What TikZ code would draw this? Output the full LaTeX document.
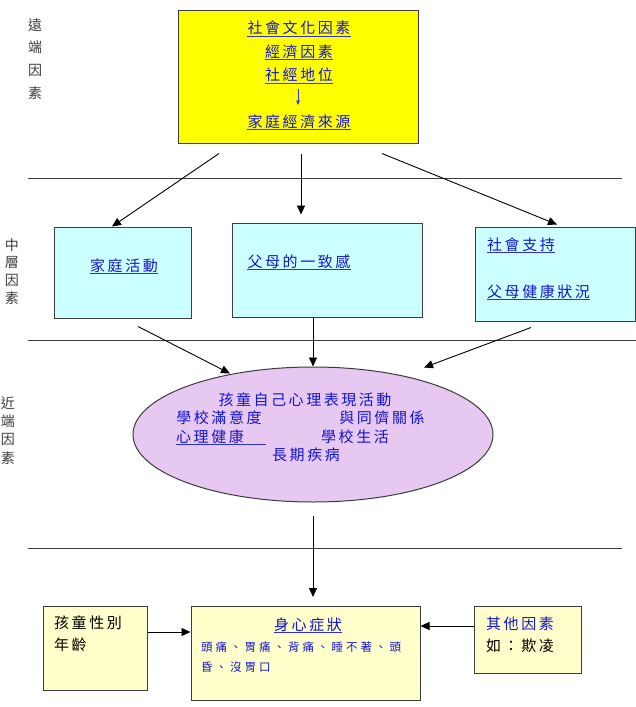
\documentclass[tikz,border=0pt]{standalone}
\usepackage{fontspec}
\newfontfamily\cjk{Noto Sans CJK TC}[LetterSpace=17]
\newfontfamily\cjks{Noto Sans CJK TC}[LetterSpace=26]
\newfontfamily\cjkn{Noto Sans CJK TC}
\usetikzlibrary{arrows.meta,shapes.geometric,calc}
\definecolor{ybox}{RGB}{255,255,0}
\definecolor{cbox}{RGB}{204,255,255}
\definecolor{pell}{RGB}{230,200,240}
\definecolor{lybox}{RGB}{255,255,204}
\definecolor{bord}{RGB}{60,60,60}
\definecolor{tblue}{RGB}{20,20,210}
\definecolor{ublue}{RGB}{50,50,200}
\definecolor{sidec}{RGB}{60,60,60}
\begin{document}
\begin{tikzpicture}[x=1pt,y=-1pt,
  box/.style={draw=bord,line width=1pt,rectangle,inner sep=0pt},
  arr/.style={-{Triangle[length=9pt,width=8pt]},line width=0.9pt,draw=black},
  sep/.style={draw=bord,line width=1pt},
  bt/.style={font=\cjk\fontsize{15}{16}\selectfont,text=tblue,inner sep=0pt},
  kt/.style={font=\cjk\fontsize{15}{16}\selectfont,text=black,inner sep=0pt},
  st/.style={font=\cjks\fontsize{11.5}{13}\selectfont,text=tblue,inner sep=0pt,anchor=west},
  ul/.style={draw=ublue,line width=0.8pt},
  side/.style={font=\cjkn\fontsize{14}{18}\selectfont,text=sidec,inner sep=0pt,align=center}
]
\useasboundingbox (0,0) rectangle (636,707);
\fill[white] (0,0) rectangle (636,707);

% separators
\coordinate (l1a) at (28,178); \coordinate (l1b) at (622,178);
\coordinate (l2a) at (28,340); \coordinate (l2b) at (636,340);
\coordinate (l3a) at (28,548); \coordinate (l3b) at (622,548);
\draw[sep] (l1a) -- (l1b);
\draw[sep] (l2a) -- (l2b);
\draw[sep] (l3a) -- (l3b);

% side labels
\node[side,font=\cjkn\fontsize{14}{22.7}\selectfont] (s1) at (35,59) {遠\\端\\因\\素};
\node[side,font=\cjkn\fontsize{14}{17.7}\selectfont] (s2) at (12,271.5) {中\\層\\因\\素};
\node[side,font=\cjkn\fontsize{14}{18.3}\selectfont] (s3) at (8,430.5) {近\\端\\因\\素};

% top box
\node[box,fill=ybox,minimum width=240,minimum height=133] (yel) at (298,76.5) {};
\node[bt] (y1) at (299,28) {社會文化因素};
\draw[ul] ($(y1.south west)+(0,1)$) -- ($(y1.south east)+(0,1)$);
\node[bt] (y2) at (299,52) {經濟因素};
\draw[ul] ($(y2.south west)+(0,0)$) -- ($(y2.south east)+(0,0)$);
\node[bt] (y3) at (299,75) {社經地位};
\draw[ul] ($(y3.south west)+(0,1)$) -- ($(y3.south east)+(0,1)$);
\coordinate (ya) at (298,89);
\coordinate (yb) at (298,105);
\draw[-{Stealth[length=5pt,width=4pt]},draw=ublue,line width=0.8pt] (ya) -- (yb);
\node[bt] (y4) at (299,122) {家庭經濟來源};
\draw[ul] ($(y4.south west)+(0,0)$) -- ($(y4.south east)+(0,0)$);

% middle boxes
\node[box,fill=cbox,minimum width=137,minimum height=91] (c1) at (123,272.5) {};
\node[box,fill=cbox,minimum width=190,minimum height=94] (c2) at (327.5,270) {};
\node[box,fill=cbox,minimum width=160,minimum height=94] (c3) at (555,274) {};

\node[bt] (t1) at (124,266) {家庭活動};
\draw[ul] ($(t1.south west)+(0,0)$) -- ($(t1.south east)+(0,0)$);
\node[bt] (t2) at (299,262) {父母的一致感};
\draw[ul] ($(t2.south west)+(0,0)$) -- ($(t2.south east)+(0,0)$);
\node[bt,anchor=west] (t3) at (487,245) {社會支持};
\draw[ul] ($(t3.south west)+(0,0)$) -- ($(t3.south east)+(0,0)$);
\node[bt,anchor=west] (t4) at (487,292) {父母健康狀況};
\draw[ul] ($(t4.south west)+(0,0)$) -- ($(t4.south east)+(0,0)$);

% arrows top -> middle
\coordinate (a1) at ($(yel.south)+(-79,10)$);
\coordinate (a2) at ($(yel.south)+(3,10)$);
\coordinate (a3) at ($(yel.south)+(84,10)$);
\draw[arr] (a1) -- ($(c1.north)+(-11,0)$);
\draw[arr] (a2) -- ($(a2)+(0,61)$);
\draw[arr] (a3) -- ($(c3.north)+(2,-2)$);

% ellipse
\node[ellipse,draw=bord,line width=1pt,fill=pell,minimum width=360,minimum height=135,inner sep=0pt] (ell) at (313,434.5) {};
\node[bt] (e1) at (305,400) {孩童自己心理表現活動};
\node[bt] (e2) at (219,418) {學校滿意度};
\node[bt] (e3) at (382,418) {與同儕關係};
\node[bt] (e4) at (210,437) {心理健康};
\draw[ul] ($(e4.south west)+(0,0)$) -- ($(e4.south west)+(90,0)$);
\node[bt] (e5) at (355,437) {學校生活};
\node[bt] (e6) at (306,455) {長期疾病};

% arrows middle -> ellipse
\coordinate (b1) at ($(c1.south)+(15,8)$);
\coordinate (b2) at (313,317);
\coordinate (b3) at ($(c3.south)+(-24,6)$);
\draw[arr] (b1) -- ($(ell.center)+(-83,-61)$);
\draw[arr] (b2) -- (ell.north);
\draw[arr] (b3) -- ($(ell.center)+(111,-67)$);

% bottom boxes
\node[box,fill=lybox,minimum width=104,minimum height=84] (lb) at (95,648) {};
\node[box,fill=lybox,minimum width=229,minimum height=94] (mb) at (305.5,653) {};
\node[box,fill=lybox,minimum width=107,minimum height=67] (rb) at (527.5,639.5) {};

\node[kt,anchor=west] (k1) at (54,623) {孩童性別};
\node[kt,anchor=west] (k2) at (54,645) {年齡};
\node[bt] (m1) at (308,625) {身心症狀};
\draw[ul] ($(m1.south west)+(0,0)$) -- ($(m1.south east)+(0,0)$);
\node[st] (m2) at (201,647) {頭痛、胃痛、背痛、睡不著、頭};
\node[st] (m3) at (201,667) {昏、沒胃口};
\node[bt,anchor=west] (r1) at (486,624) {其他因素};
\node[kt,anchor=west] (r2) at (486,646) {如：欺凌};

% arrows to bottom
\coordinate (d1) at (313,516);
\coordinate (d2) at (313,597);
\draw[arr] (d1) -- (d2);
\draw[arr] ($(lb.east)+(0,-16)$) -- ($(mb.west)+(0,-21)$);
\draw[arr] ($(rb.west)+(0,-13.5)$) -- ($(mb.east)+(0,-27)$);
\end{tikzpicture}
\end{document}
